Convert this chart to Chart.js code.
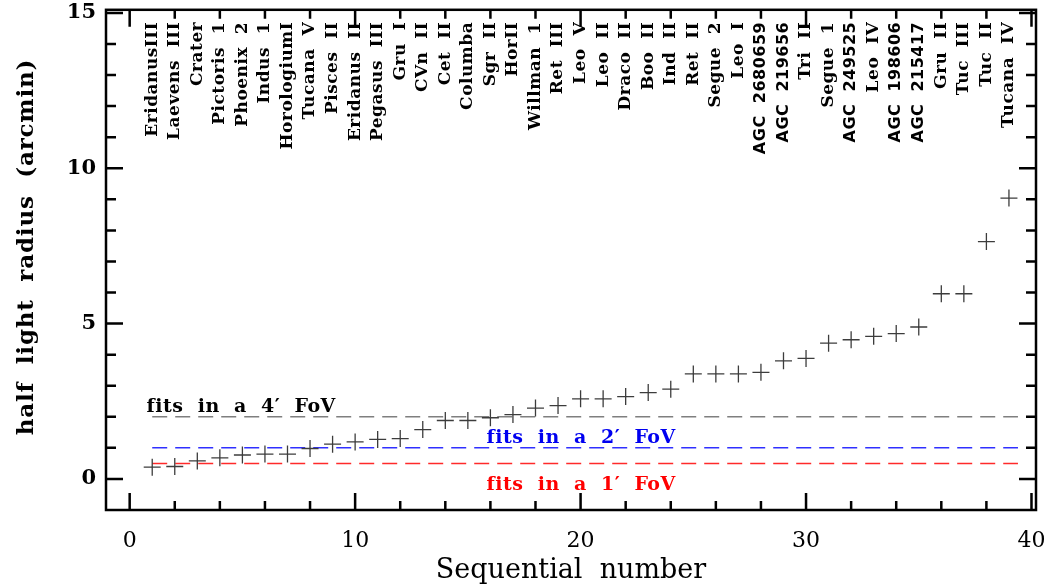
<!DOCTYPE html>
<html lang="en">
<head>
  <meta charset="UTF-8">
  <title>Half light radius of dwarf galaxies</title>
  <script src="https://cdn.jsdelivr.net/npm/chart.js"></script>
  <style>
    html, body {
      margin: 0;
      padding: 0;
      background: #fff;
    }

    #wrap {
      width: 1053px;
      height: 588px;
    }
  </style>
</head>
<body>

  <div id="wrap"><canvas id="radiusChart"></canvas></div>

  <script>
    // Galaxies sorted by half light radius
    const seqNumbers = [1, 2, 3, 4, 5, 6, 7, 8, 9, 10, 11, 12, 13, 14, 15, 16, 17, 18, 19, 20,
      21, 22, 23, 24, 25, 26, 27, 28, 29, 30, 31, 32, 33, 34, 35, 36, 37, 38, 39];
    const galaxyNames = [
      'EridanusIII', 'Laevens  III', 'Crater', 'Pictoris  1', 'Phoenix  2', 'Indus  1',
      'HorologiumI', 'Tucana  V', 'Pisces  II', 'Eridanus  II', 'Pegasus  III', 'Gru  I',
      'CVn  II', 'Cet  II', 'Columba', 'Sgr  II', 'HorII', 'Willman  1', 'Ret  III', 'Leo  V',
      'Leo  II', 'Draco  II', 'Boo  II', 'Ind  II', 'Ret  II', 'Segue  2', 'Leo  I',
      'AGC  2680659', 'AGC  219656', 'Tri  II', 'Segue  1', 'AGC  249525', 'Leo  IV',
      'AGC  198606', 'AGC  215417', 'Gru  II', 'Tuc  III', 'Tuc  II', 'Tucana  IV'
    ];
    const halfLightRadius = [0.38, 0.40, 0.58, 0.68, 0.77, 0.80, 0.80, 0.98, 1.12, 1.19,
      1.27, 1.30, 1.59, 1.88, 1.88, 1.97, 2.07, 2.28, 2.36, 2.58,
      2.58, 2.65, 2.78, 2.89, 3.38, 3.38, 3.38, 3.43, 3.80, 3.88,
      4.37, 4.48, 4.59, 4.68, 4.89, 5.96, 5.96, 7.64, 9.04];

    // Field of view limits (arcmin)
    const fovRadius = [2, 1, 0.5];
    const fovNames = ['fits  in  a  4\u2032  FoV', 'fits  in  a  2\u2032  FoV', 'fits  in  a  1\u2032  FoV'];
    const xTicks = [0, 10, 20, 30, 40];
    const yTicks = [0, 5, 10, 15];

    const fovLineColors = ['#7f7f7f', '#3030ff', '#ff2a2a'];
    const fovTextColors = ['#000000', '#0000f0', '#ff0000'];
    const fovTextAt = [[0.75, 2.15], [15.83, 1.16], [15.83, -0.35]];

    const serif = '"DejaVu Serif", serif';

    // frame with inward ticks, names along the top, FoV labels
    const framePlugin = {
      id: 'frame',
      afterDraw(chart) {
        const { ctx, chartArea: a, scales: { x, y } } = chart;
        ctx.save();
        ctx.strokeStyle = '#000';
        ctx.lineWidth = 2.5;
        ctx.strokeRect(a.left, a.top, a.right - a.left, a.bottom - a.top);

        ctx.beginPath();
        for (let v = 0; v <= 40; v += 2) {
          const px = x.getPixelForValue(v);
          const len = v % 10 === 0 ? 17 : 9;
          ctx.moveTo(px, a.bottom);
          ctx.lineTo(px, a.bottom - len);
          ctx.moveTo(px, a.top);
          ctx.lineTo(px, a.top + len);
        }
        for (let v = 0; v <= 15; v++) {
          const py = y.getPixelForValue(v);
          const len = v % 5 === 0 ? 17 : 10;
          ctx.moveTo(a.left, py);
          ctx.lineTo(a.left + len, py);
          ctx.moveTo(a.right, py);
          ctx.lineTo(a.right - len, py);
        }
        ctx.stroke();

        // galaxy names, written upwards
        ctx.fillStyle = '#000';
        ctx.textAlign = 'right';
        ctx.textBaseline = 'middle';
        ctx.letterSpacing = '0.5px';
        galaxyNames.forEach((name, i) => {
          const px = x.getPixelForValue(seqNumbers[i]);
          ctx.save();
          ctx.translate(px, a.top + 12);
          ctx.rotate(-Math.PI / 2);
          ctx.font = name.startsWith('AGC')
            ? 'bold 16px "DejaVu Sans", sans-serif'
            : 'bold 17px ' + serif;
          ctx.fillText(name, 0, 0);
          ctx.restore();
        });

        // FoV labels
        ctx.textAlign = 'left';
        ctx.textBaseline = 'alphabetic';
        ctx.font = 'bold 19px ' + serif;
        fovNames.forEach((label, i) => {
          ctx.fillStyle = fovTextColors[i];
          ctx.fillText(label, x.getPixelForValue(fovTextAt[i][0]), y.getPixelForValue(fovTextAt[i][1]));
        });

        // y axis title
        ctx.fillStyle = '#000';
        ctx.textAlign = 'center';
        ctx.textBaseline = 'middle';
        ctx.letterSpacing = '0.8px';
        ctx.font = 'bold 23px ' + serif;
        ctx.translate(27, 247);
        ctx.rotate(-Math.PI / 2);
        ctx.fillText('half  light  radius  (arcmin)', 0, 0);
        ctx.restore();
      }
    };

    const fovDatasets = fovRadius.map((r, i) => ({
      data: [{ x: 1, y: r }, { x: 39.4, y: r }],
      showLine: true,
      borderColor: fovLineColors[i],
      borderWidth: 1.5,
      borderDash: [15, 8],
      pointRadius: 0
    }));

    new Chart(document.getElementById('radiusChart'), {
      type: 'scatter',
      data: {
        datasets: [
          {
            data: seqNumbers.map((n, i) => ({ x: n, y: halfLightRadius[i] })),
            pointStyle: 'cross',
            pointRadius: 8.5,
            borderColor: '#3c3c3c',
            borderWidth: 1.3
          },
          ...fovDatasets
        ]
      },
      options: {
        responsive: true,
        maintainAspectRatio: false,
        animation: false,
        layout: { padding: { top: 9, right: 17, left: 0, bottom: 0 } },
        plugins: {
          legend: { display: false },
          tooltip: { enabled: false }
        },
        scales: {
          x: {
            type: 'linear',
            min: -1.05,
            max: 40.2,
            grid: { display: false },
            border: { display: false },
            afterBuildTicks: s => { s.ticks = xTicks.map(v => ({ value: v })); },
            afterFit: s => { s.height = 78; s.paddingLeft = 0; s.paddingRight = 0; },
            ticks: {
              padding: 10,
              color: '#000',
              maxRotation: 0,
              font: { family: serif, size: 22 }
            },
            title: {
              display: true,
              text: 'Sequential  number',
              color: '#000',
              font: { family: serif, size: 27 },
              padding: { top: 0, bottom: 1 }
            }
          },
          y: {
            type: 'linear',
            min: -1,
            max: 15.1,
            grid: { display: false },
            border: { display: false },
            afterBuildTicks: s => { s.ticks = yTicks.map(v => ({ value: v })); },
            afterFit: s => { s.width = 106; s.paddingTop = 0; s.paddingBottom = 0; },
            ticks: {
              padding: 2,
              color: '#000',
              font: { family: serif, size: 21, weight: 'bold' }
            }
          }
        }
      },
      plugins: [framePlugin]
    });
  </script>
</body>
</html>
